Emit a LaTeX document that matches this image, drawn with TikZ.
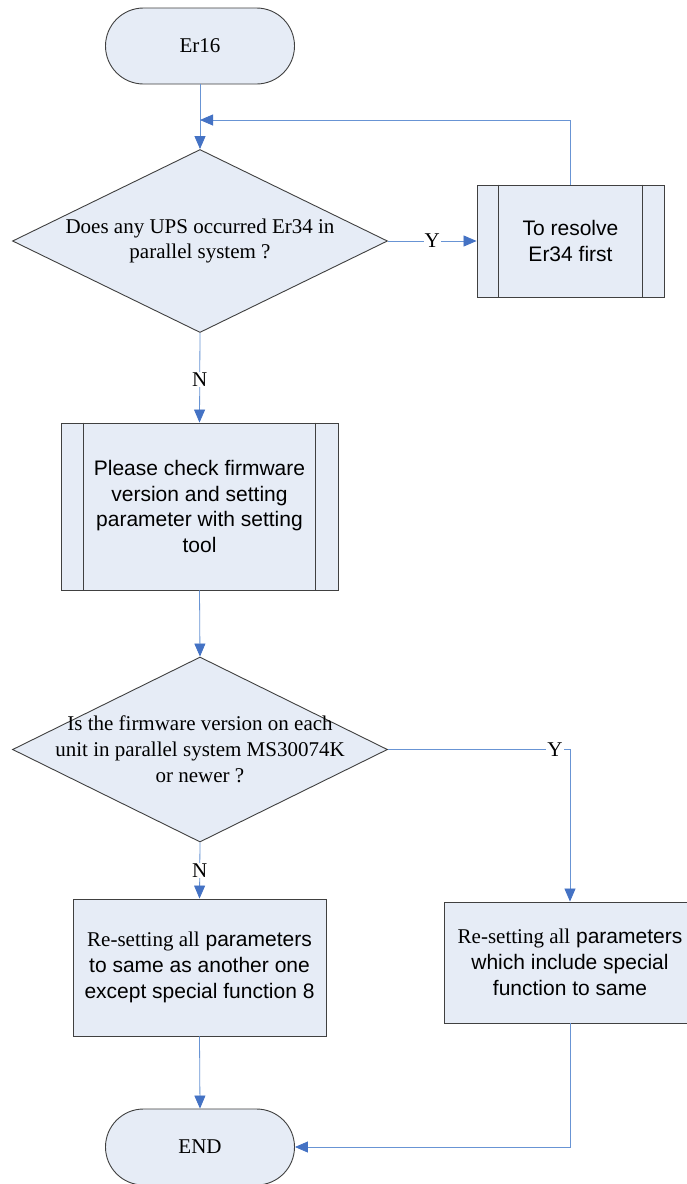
\documentclass[tikz,border=0pt]{standalone}
\usepackage{fontspec}
\setmainfont{Liberation Serif}
\setsansfont{Liberation Sans}
\usetikzlibrary{shapes.geometric,arrows.meta}
\definecolor{shapefill}{RGB}{230,236,246}
\definecolor{shapeline}{RGB}{64,64,64}
\definecolor{flowblue}{RGB}{104,148,212}
\definecolor{headblue}{RGB}{68,114,196}
\tikzset{
  base/.style={draw=shapeline, fill=shapefill, line width=0.9pt, inner sep=0pt},
  term/.style={base, rectangle, rounded corners=38pt, minimum width=189pt, minimum height=76pt,
    font=\fontsize{21}{25}\selectfont},
  decision/.style={base, diamond, minimum width=375pt, minimum height=183pt},
  qtext/.style={align=center, font=\fontsize{21}{25.5}\selectfont},
  procbox/.style={base, rectangle, align=center, font=\sffamily\fontsize{21}{25.7}\selectfont},
  flow/.style={draw=flowblue, line width=0.8pt, -{Triangle[length=13pt,width=11pt,color=headblue]}},
  lbl/.style={fill=white, inner sep=1pt, font=\fontsize{21}{21}\selectfont, text=black}
}
\newcommand{\sidebars}[2]{%
  \draw[shapeline, line width=0.9pt] ([xshift=#2]#1.north west) -- ([xshift=#2]#1.south west);
  \draw[shapeline, line width=0.9pt] ([xshift=-#2]#1.north east) -- ([xshift=-#2]#1.south east);}
\begin{document}
\begin{tikzpicture}[x=1pt, y=-1pt]
  \useasboundingbox (0,0) rectangle (686,1184);
  \fill[white] (0,0) rectangle (686,1184);

  % start terminal
  \node[term] (e16) at (200,46) {Er16};

  % first decision
  \node[decision] (d1) at (200,241) {};
  \node[qtext] (d1t) at (d1.center) {Does any UPS occurred Er34 in\\parallel system ?};

  % predefined process: resolve Er34
  \node[procbox, minimum width=187pt, minimum height=112pt] (b1) at (570.5,241)
    {To resolve\\Er34 first};
  \sidebars{b1}{22pt}

  % predefined process: check firmware
  \node[procbox, minimum width=277pt, minimum height=167pt] (b2) at (199.5,506.5)
    {Please check firmware\\version and setting\\parameter with setting\\tool};
  \sidebars{b2}{23pt}

  % second decision
  \node[decision, minimum height=185pt] (d2) at (200,749.5) {};
  \node[qtext, font=\fontsize{21}{26}\selectfont] (d2t) at (d2.center)
    {Is the firmware version on each\\unit in parallel system MS30074K\\or newer ?};

  % resetting boxes
  \node[procbox, minimum width=253pt, minimum height=137pt] (b4) at (199.5,967.5)
    {{\rmfamily Re-setting all} parameters\\to same as another one\\except special function 8};
  \node[procbox, minimum width=252pt, minimum height=121pt] (b3) at (570,962.5)
    {{\rmfamily Re-setting all} parameters\\which include special\\function to same};

  % end terminal
  \node[term] (fin) at (200,1147) {END};

  % connectors
  \coordinate (fb) at (200,120);
  \draw[flow] (e16.south) -- (d1.north);
  \draw[flow] (b1.north) |- (fb);
  \draw[flow] (d1.east) -- node[lbl]{Y} (b1.west);
  \draw[flow] (d1.south) -- node[lbl, pos=0.52]{N} (b2.north);
  \draw[flow] (b2.south) -- (d2.north);
  \draw[flow] (d2.east) -| node[lbl, pos=0.459]{Y} (b3.north);
  \draw[flow] (d2.south) -- node[lbl, pos=0.5]{N} (b4.north);
  \draw[flow] (b4.south) -- (fin.north);
  \draw[flow] (b3.south) |- (fin.east);
\end{tikzpicture}
\end{document}
